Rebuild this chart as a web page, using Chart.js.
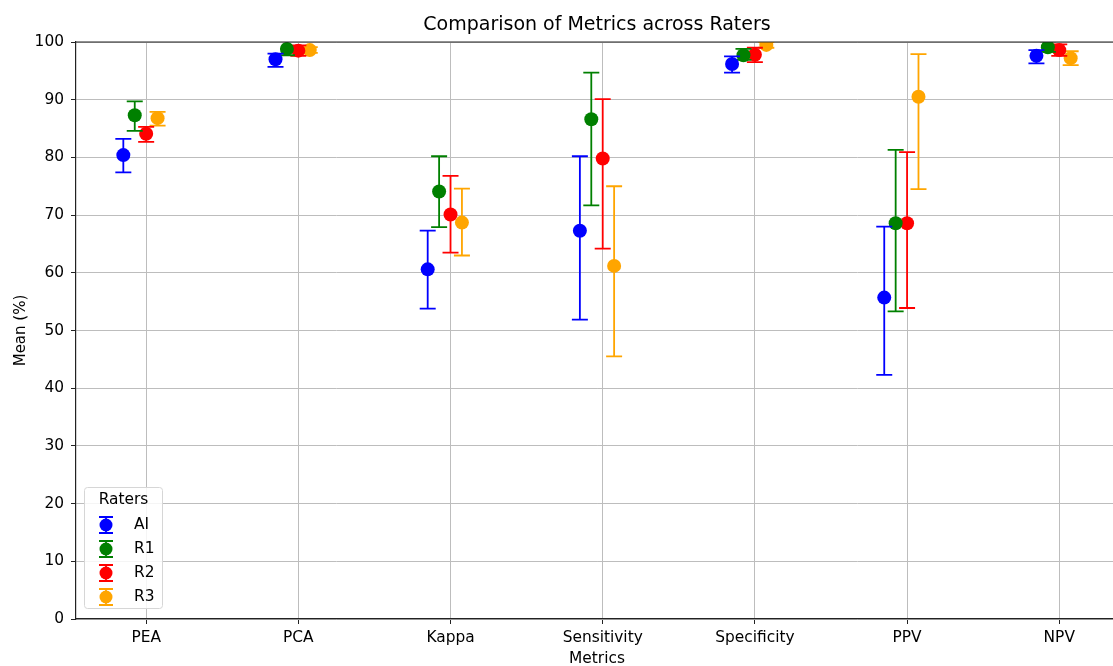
<!DOCTYPE html>
<html>
<head>
<meta charset="utf-8">
<script src="https://cdn.jsdelivr.net/npm/chart.js@4"></script>
<style>
  html, body { margin: 0; padding: 0; background: #fff; overflow: hidden; }
  #wrap { width: 1113px; height: 666px; overflow: hidden; }
</style>
</head>
<body>
<div id="wrap"><canvas id="chart" width="1125" height="666"></canvas></div>
<script>
// ==== DATA ====
const metrics = ['PEA', 'PCA', 'Kappa', 'Sensitivity', 'Specificity', 'PPV', 'NPV'];
const raters  = ['AI', 'R1', 'R2', 'R3'];
const yTicks  = [0, 10, 20, 30, 40, 50, 60, 70, 80, 90, 100];

const aiMean = [80.4, 97.0, 60.6, 67.3, 96.2, 55.7, 97.6];
const aiLow  = [77.4, 95.7, 53.8, 51.9, 94.7, 42.3, 96.3];
const aiHigh = [83.2, 98.0, 67.3, 80.2, 97.5, 68.0, 98.6];

const r1Mean = [87.3, 98.8, 74.1, 86.6, 97.7, 68.6, 99.1];
const r1Low  = [84.6, 97.7, 67.9, 71.7, 96.9, 53.3, 98.3];
const r1High = [89.7, 100.2, 80.2, 94.7, 98.8, 81.3, 100.1];

const r2Mean = [84.1, 98.5, 70.1, 79.8, 97.8, 68.6, 98.6];
const r2Low  = [82.7, 97.6, 63.5, 64.2, 96.5, 53.9, 97.6];
const r2High = [85.3, 99.4, 76.8, 90.1, 99.0, 80.9, 99.6];

const r3Mean = [86.8, 98.6, 68.7, 61.2, 99.5, 90.5, 97.2];
const r3Low  = [85.5, 98.1, 63.0, 45.5, 99.0, 74.5, 96.0];
const r3High = [87.9, 99.1, 74.6, 75.0, 100.0, 97.9, 98.4];

// ==== STYLE ====
const COLORS  = ['#0000ff', '#008000', '#ff0000', '#ffa500'];
const OFFSETS = [-0.15, -0.075, 0, 0.075];
const FONT    = 'DejaVu Sans';
const FS      = 15.4;

const means = [aiMean, r1Mean, r2Mean, r3Mean];
const lows  = [aiLow, r1Low, r2Low, r3Low];
const highs = [aiHigh, r1High, r2High, r3High];

const datasets = raters.map((name, r) => ({
  label: name,
  data: metrics.map((m, i) => ({ x: i + OFFSETS[r], y: means[r][i], lo: lows[r][i], hi: highs[r][i] })),
  backgroundColor: COLORS[r],
  borderColor: COLORS[r],
  pointRadius: 7,
  pointHoverRadius: 7,
  borderWidth: 0
}));

// ==== PLUGINS ====
const errorBars = {
  id: 'errorBars',
  beforeDatasetDraw(chart, args) {
    const ds = chart.data.datasets[args.index];
    const { ctx, chartArea: a, scales: { x, y } } = chart;
    ctx.save();
    ctx.beginPath();
    ctx.rect(a.left, a.top, a.right - a.left, a.bottom - a.top);
    ctx.clip();
    ctx.strokeStyle = ds.borderColor;
    ctx.lineWidth = 1.8;
    ds.data.forEach(p => {
      const px = x.getPixelForValue(p.x);
      const yl = y.getPixelForValue(p.lo);
      const yh = y.getPixelForValue(p.hi);
      ctx.beginPath();
      ctx.moveTo(px, yl); ctx.lineTo(px, yh);
      ctx.moveTo(px - 8, yl); ctx.lineTo(px + 8, yl);
      ctx.moveTo(px - 8, yh); ctx.lineTo(px + 8, yh);
      ctx.stroke();
    });
    ctx.restore();
  }
};

const frameAndLegend = {
  id: 'frameAndLegend',
  afterDraw(chart) {
    const { ctx, chartArea: a } = chart;
    ctx.save();
    // top spine
    ctx.strokeStyle = '#222';
    ctx.lineWidth = 1.2;
    ctx.beginPath();
    ctx.moveTo(a.left, a.top);
    ctx.lineTo(a.right, a.top);
    ctx.stroke();

    // legend box (lower left)
    const bx = 84.5, by = 487.5, bw = 78, bh = 121;
    ctx.fillStyle = 'rgba(255,255,255,0.85)';
    ctx.strokeStyle = '#d6d6d6';
    ctx.lineWidth = 1;
    ctx.beginPath();
    ctx.roundRect(bx, by, bw, bh, 3);
    ctx.fill();
    ctx.stroke();

    ctx.fillStyle = '#000';
    ctx.font = FS + 'px ' + FONT;
    ctx.textAlign = 'center';
    ctx.textBaseline = 'middle';
    ctx.fillText('Raters', bx + bw / 2, 500);

    chart.data.datasets.forEach((ds, i) => {
      const cy = 525 + i * 24;
      const cx = 106;
      ctx.strokeStyle = ds.borderColor;
      ctx.lineWidth = 1.8;
      ctx.beginPath();
      ctx.moveTo(cx, cy - 8); ctx.lineTo(cx, cy + 8);
      ctx.moveTo(cx - 7, cy - 8); ctx.lineTo(cx + 7, cy - 8);
      ctx.moveTo(cx - 7, cy + 8); ctx.lineTo(cx + 7, cy + 8);
      ctx.stroke();
      ctx.fillStyle = ds.backgroundColor;
      ctx.beginPath();
      ctx.arc(cx, cy, 6.5, 0, Math.PI * 2);
      ctx.fill();
      ctx.fillStyle = '#000';
      ctx.textAlign = 'left';
      ctx.fillText(ds.label, 134, cy);
    });
    ctx.restore();
  }
};

// ==== CHART ====
new Chart(document.getElementById('chart'), {
  type: 'scatter',
  data: { datasets },
  plugins: [errorBars, frameAndLegend],
  options: {
    responsive: false,
    animation: false,
    layout: { padding: { left: 0, right: 0, top: 0, bottom: 0 } },
    plugins: {
      legend: { display: false },
      tooltip: { enabled: false },
      title: {
        display: true,
        fullSize: false,
        text: 'Comparison of Metrics across Raters',
        color: '#000',
        font: { family: FONT, size: 19, weight: 'normal' },
        padding: { top: 14, bottom: 5.2 }
      }
    },
    scales: {
      x: {
        type: 'linear',
        min: -0.461,
        max: 6.386,
        afterBuildTicks: s => { s.ticks = metrics.map((m, i) => ({ value: i })); },
        afterFit: s => { s.height = 47; },
        ticks: {
          callback: v => metrics[v],
          color: '#000',
          font: { family: FONT, size: FS, lineHeight: 1.2 },
          padding: 5,
          maxRotation: 0,
          autoSkip: false
        },
        grid: { color: '#bdbdbd', lineWidth: 1, tickColor: '#222', tickLength: 5 },
        border: { color: '#222', width: 1.2 },
        title: {
          display: true,
          text: 'Metrics',
          color: '#000',
          font: { family: FONT, size: FS, lineHeight: 1 },
          padding: { top: 0, bottom: -1 }
        }
      },
      y: {
        min: 0,
        max: 100,
        afterBuildTicks: s => { s.ticks = yTicks.map(v => ({ value: v })); },
        afterFit: s => { s.width = 76; },
        ticks: {
          color: '#000',
          font: { family: FONT, size: FS },
          padding: 7
        },
        grid: { color: '#bdbdbd', lineWidth: 1, tickColor: '#222', tickLength: 5 },
        border: { color: '#222', width: 1.2 },
        title: {
          display: true,
          text: 'Mean (%)',
          color: '#000',
          font: { family: FONT, size: 15, lineHeight: 1.2 },
          padding: { top: 12, bottom: 0 }
        }
      }
    }
  }
});
</script>
</body>
</html>
